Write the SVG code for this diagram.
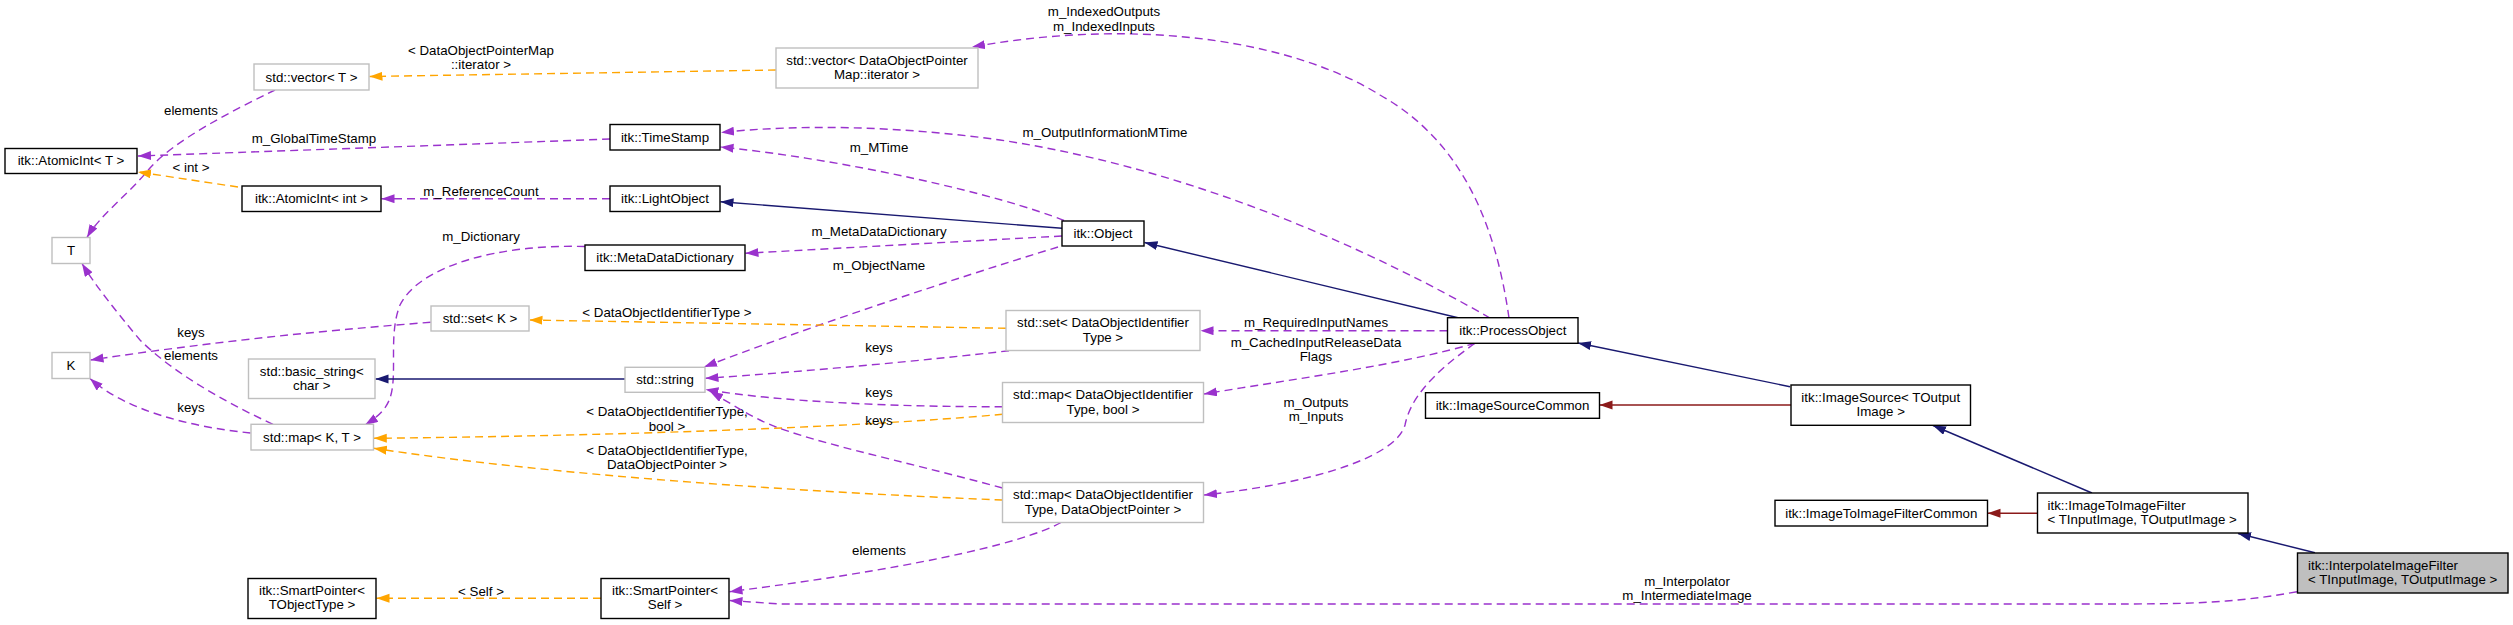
<svg xmlns="http://www.w3.org/2000/svg" width="2513" height="625" viewBox="0 0 2513 625">
<style>
text{font-family:"Liberation Sans",Arial,sans-serif;font-size:13.3px;fill:#000}
.c{text-anchor:middle}
.s{text-anchor:start}
.nb{fill:#fff;stroke:#000;stroke-width:1.4}
.ng{fill:#fff;stroke:#bfbfbf;stroke-width:1.4}
.nh{fill:#bfbfbf;stroke:#000;stroke-width:1.4}
.e{fill:none;stroke-width:1.4}
.pu{stroke:#9a32cd;stroke-dasharray:8,5;marker-end:url(#ap)}
.or{stroke:#ffa500;stroke-dasharray:8,5;marker-end:url(#ao)}
.nv{stroke:#191970;marker-end:url(#an)}
.fr{stroke:#8b1a1a;marker-end:url(#af)}
</style>
<defs>
<marker id="ap" markerUnits="userSpaceOnUse" markerWidth="14" markerHeight="10" refX="13" refY="4.5" orient="auto"><path d="M0,0L13,4.5L0,9z" fill="#9a32cd"/></marker>
<marker id="ao" markerUnits="userSpaceOnUse" markerWidth="14" markerHeight="10" refX="13" refY="4.5" orient="auto"><path d="M0,0L13,4.5L0,9z" fill="#ffa500"/></marker>
<marker id="an" markerUnits="userSpaceOnUse" markerWidth="14" markerHeight="10" refX="13" refY="4.5" orient="auto"><path d="M0,0L13,4.5L0,9z" fill="#191970"/></marker>
<marker id="af" markerUnits="userSpaceOnUse" markerWidth="14" markerHeight="10" refX="13" refY="4.5" orient="auto"><path d="M0,0L13,4.5L0,9z" fill="#8b1a1a"/></marker>
</defs>
<rect width="2513" height="625" fill="#fff"/>
<g id="connectors">
<path class="e or" d="M776,70 L369.5,76.5"/>
<text class="c" x="481" y="55">&lt; DataObjectPointerMap</text>
<text class="c" x="481" y="69">::iterator &gt;</text>
<path class="e pu" d="M275,90 C230,112 175,140 150,168 C128,195 100,215 87,237.5"/>
<text class="c" x="191" y="114.5">elements</text>
<path class="e pu" d="M610,139 C450,145 250,152 138,156"/>
<text class="c" x="314" y="142.5">m_GlobalTimeStamp</text>
<path class="e or" d="M238,187 L138,172"/>
<text class="c" x="191" y="171.5">&lt; int &gt;</text>
<path class="e pu" d="M610,198.7 L381.5,198.7"/>
<text class="c" x="481" y="195.5">m_ReferenceCount</text>
<path class="e nv" d="M1062,228.3 L720.5,201.7"/>
<path class="e pu" d="M1064,220.5 C1000,195 850,160 720.5,147"/>
<text class="c" x="879" y="151.5">m_MTime</text>
<path class="e pu" d="M1490,318 C1380,255 1200,170 1000,140 C900,126 800,124 721,132.5"/>
<text class="c" x="1105" y="137">m_OutputInformationMTime</text>
<path class="e pu" d="M1509,318 C1495,220 1460,140 1380,95 C1300,45 1150,15 972,47"/>
<text class="c" x="1104" y="16">m_IndexedOutputs</text>
<text class="c" x="1104" y="31">m_IndexedInputs</text>
<path class="e pu" d="M1062,236 L745.5,253.3"/>
<text class="c" x="879" y="236">m_MetaDataDictionary</text>
<path class="e pu" d="M1058,247 C950,280 800,330 704,367"/>
<text class="c" x="879" y="269.5">m_ObjectName</text>
<path class="e nv" d="M1458,317.7 L1144.5,242.5"/>
<path class="e pu" d="M585,246.5 C500,244 420,265 400,305 C388,335 398,375 390,398 C386,410 376,418 365,425"/>
<text class="c" x="481" y="241">m_Dictionary</text>
<path class="e pu" d="M430.7,322.3 Q250,336 90.5,360"/>
<text class="c" x="191" y="337">keys</text>
<path class="e pu" d="M250.5,433 C190,427 125,410 90,378.5"/>
<text class="c" x="191" y="412">keys</text>
<path class="e pu" d="M273,424.3 C220,400 170,370 140,340 C115,310 95,285 82,263.5"/>
<text class="c" x="191" y="360">elements</text>
<path class="e nv" d="M625,379 L375.5,379"/>
<path class="e or" d="M1006,328.3 L529.5,320"/>
<text class="c" x="667" y="316.5">&lt; DataObjectIdentifierType &gt;</text>
<path class="e pu" d="M1009,350.7 C930,360 800,372 705.5,378.3"/>
<text class="c" x="879" y="352">keys</text>
<path class="e pu" d="M1002.5,406.7 C900,407 780,402 705.5,389.5"/>
<text class="c" x="879" y="397">keys</text>
<path class="e or" d="M1002.5,414.3 C850,428 600,436 373.8,438.3"/>
<text class="c" x="667" y="416">&lt; DataObjectIdentifierType,</text>
<text class="c" x="667" y="431">bool &gt;</text>
<path class="e pu" d="M1002.5,488 C900,460 800,440 760,420 C740,410 725,400 710,391.5"/>
<text class="c" x="879" y="424.5">keys</text>
<path class="e or" d="M1002.5,500 C800,492 550,475 373.8,448.3"/>
<text class="c" x="667" y="455">&lt; DataObjectIdentifierType,</text>
<text class="c" x="667" y="469">DataObjectPointer &gt;</text>
<path class="e pu" d="M1061,522.5 C1020,545 900,570 729.5,591.7"/>
<text class="c" x="879" y="555">elements</text>
<path class="e or" d="M601,598.3 L376.5,598.3"/>
<text class="c" x="481" y="595.5">&lt; Self &gt;</text>
<path class="e pu" d="M2297,591.7 C2230,604 2180,604 2100,604 L780,604 L729.5,600.5"/>
<text class="c" x="1687" y="585.5">m_Interpolator</text>
<text class="c" x="1687" y="600">m_IntermediateImage</text>
<path class="e pu" d="M1447.5,330.7 L1200.5,330.7"/>
<text class="c" x="1316" y="327">m_RequiredInputNames</text>
<path class="e pu" d="M1475,343.3 C1400,365 1300,378 1204,394"/>
<text class="c" x="1316" y="347">m_CachedInputReleaseData</text>
<text class="c" x="1316" y="361">Flags</text>
<path class="e pu" d="M1475,343.3 C1430,375 1410,400 1405,425 C1395,460 1300,485 1204,495"/>
<text class="c" x="1316" y="407">m_Outputs</text>
<text class="c" x="1316" y="421">m_Inputs</text>
<path class="e nv" d="M1790,386.7 L1578,343"/>
<path class="e fr" d="M1791,405 L1599.5,405"/>
<path class="e nv" d="M2092,493 L1933,425.5"/>
<path class="e fr" d="M2037.5,513.3 L1987.5,513.3"/>
<path class="e nv" d="M2315,552.7 L2238,533.5"/>
</g>
<g id="n_vecT"><rect class="ng" x="254" y="64" width="115" height="26"/><text class="c" x="311.5" y="81.5">std::vector&lt; T &gt;</text></g>
<g id="n_vecDOPM"><rect class="ng" x="776" y="48" width="202" height="40"/><text class="c" x="877" y="64.5">std::vector&lt; DataObjectPointer</text><text class="c" x="877" y="79">Map::iterator &gt;</text></g>
<g id="n_atomicT"><rect class="nb" x="5" y="148.5" width="132" height="25"/><text class="c" x="71" y="165">itk::AtomicInt&lt; T &gt;</text></g>
<g id="n_atomicInt"><rect class="nb" x="242" y="186" width="139" height="25.5"/><text class="c" x="311.5" y="203">itk::AtomicInt&lt; int &gt;</text></g>
<g id="n_timestamp"><rect class="nb" x="610" y="124.5" width="110" height="25.5"/><text class="c" x="665" y="141.5">itk::TimeStamp</text></g>
<g id="n_lightobject"><rect class="nb" x="610" y="186" width="110" height="25.5"/><text class="c" x="665" y="203">itk::LightObject</text></g>
<g id="n_metadatadict"><rect class="nb" x="585" y="245" width="160" height="25.5"/><text class="c" x="665" y="262">itk::MetaDataDictionary</text></g>
<g id="n_T"><rect class="ng" x="52" y="237.5" width="38" height="26"/><text class="c" x="71" y="255">T</text></g>
<g id="n_object"><rect class="nb" x="1062" y="221" width="82" height="25"/><text class="c" x="1103" y="238">itk::Object</text></g>
<g id="n_setK"><rect class="ng" x="431" y="306" width="98" height="25"/><text class="c" x="480" y="323">std::set&lt; K &gt;</text></g>
<g id="n_K"><rect class="ng" x="52" y="352.5" width="38" height="26"/><text class="c" x="71" y="370">K</text></g>
<g id="n_basicstring"><rect class="ng" x="248.5" y="359" width="126.5" height="39.5"/><text class="c" x="311.75" y="376">std::basic_string&lt;</text><text class="c" x="311.75" y="390">char &gt;</text></g>
<g id="n_string"><rect class="ng" x="625" y="367.3" width="80" height="25"/><text class="c" x="665" y="384">std::string</text></g>
<g id="n_mapKT"><rect class="ng" x="251" y="424.3" width="122.5" height="25.7"/><text class="c" x="312" y="441.5">std::map&lt; K, T &gt;</text></g>
<g id="n_spTObj"><rect class="nb" x="248" y="578.5" width="128" height="40"/><text class="c" x="312" y="595">itk::SmartPointer&lt;</text><text class="c" x="312" y="609">TObjectType &gt;</text></g>
<g id="n_spSelf"><rect class="nb" x="601" y="578.5" width="128" height="40"/><text class="c" x="665" y="595">itk::SmartPointer&lt;</text><text class="c" x="665" y="609">Self &gt;</text></g>
<g id="n_setDOIT"><rect class="ng" x="1006" y="310.5" width="194" height="40"/><text class="c" x="1103" y="327">std::set&lt; DataObjectIdentifier</text><text class="c" x="1103" y="341.5">Type &gt;</text></g>
<g id="n_mapBool"><rect class="ng" x="1002.5" y="382.5" width="201" height="40"/><text class="c" x="1103" y="399">std::map&lt; DataObjectIdentifier</text><text class="c" x="1103" y="413.5">Type, bool &gt;</text></g>
<g id="n_mapDOP"><rect class="ng" x="1002.5" y="482.5" width="201" height="40"/><text class="c" x="1103" y="499">std::map&lt; DataObjectIdentifier</text><text class="c" x="1103" y="513.5">Type, DataObjectPointer &gt;</text></g>
<g id="n_processobject"><rect class="nb" x="1447.5" y="317.7" width="130.5" height="25.6"/><text class="c" x="1512.75" y="335">itk::ProcessObject</text></g>
<g id="n_imagesourcecommon"><rect class="nb" x="1425.5" y="392.7" width="174" height="25.6"/><text class="c" x="1512.5" y="410">itk::ImageSourceCommon</text></g>
<g id="n_imagesource"><rect class="nb" x="1791" y="385" width="179.5" height="40.3"/><text class="c" x="1880.75" y="401.5">itk::ImageSource&lt; TOutput</text><text class="c" x="1880.75" y="416">Image &gt;</text></g>
<g id="n_itifcommon"><rect class="nb" x="1775" y="500.3" width="212.5" height="25.7"/><text class="c" x="1881.25" y="517.5">itk::ImageToImageFilterCommon</text></g>
<g id="n_itif"><rect class="nb" x="2037.5" y="493" width="210.5" height="40"/><text class="s" x="2047.5" y="509.5">itk::ImageToImageFilter</text><text class="s" x="2047.5" y="523.5">&lt; TInputImage, TOutputImage &gt;</text></g>
<g id="n_interp"><rect class="nh" x="2297.5" y="553" width="210.5" height="40"/><text class="s" x="2308" y="569.5">itk::InterpolateImageFilter</text><text class="s" x="2308" y="583.5">&lt; TInputImage, TOutputImage &gt;</text></g>
</svg>
